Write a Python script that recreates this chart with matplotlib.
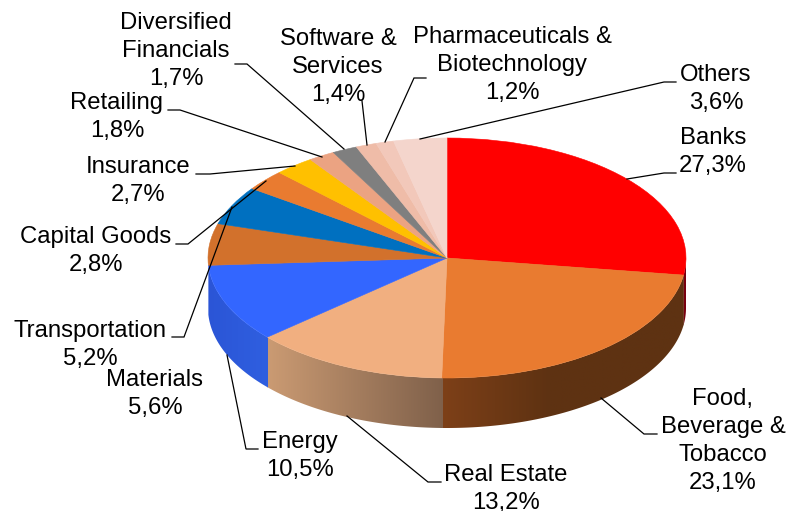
import numpy as np
import matplotlib
matplotlib.use("Agg")
import matplotlib.pyplot as plt
from matplotlib.colors import to_rgb
from matplotlib.patches import Polygon

plt.rcParams['font.family'] = ['Liberation Sans', 'DejaVu Sans']

# data
sectors = ["Banks", "Food,\nBeverage &\nTobacco", "Real Estate", "Energy", "Materials",
           "Transportation", "Capital Goods", "Insurance", "Retailing",
           "Diversified\nFinancials", "Software &\nServices",
           "Pharmaceuticals &\nBiotechnology", "Others"]
shares = [27.3, 23.1, 13.2, 10.5, 5.6, 5.2, 2.8, 2.7, 1.8, 1.7, 1.4, 1.2, 3.6]
share_labels = ["27,3%", "23,1%", "13,2%", "10,5%", "5,6%", "5,2%", "2,8%",
                "2,7%", "1,8%", "1,7%", "1,4%", "1,2%", "3,6%"]
colors = ["#FF0000", "#E97B30", "#F1AF80", "#3366FF", "#D2712C", "#0070C0", "#E97B30",
          "#FFC000", "#EBA382", "#7F7F7F", "#EFBCA8", "#F2C8BA", "#F4D5CC"]

# pixel layout of the pie in the 788x511 picture
cx, cy = 447, 258
rx, ry = 239, 120
depth = 50 / ry

# label centres in pixels, same order as sectors
label_pos = [(713, 152), (723, 441), (506, 489), (300, 456), (155, 394),
             (90, 345), (96, 251), (138, 181), (117, 117),
             (176, 51), (338, 67), (512, 65), (716, 89)]

# leader lines in pixels (None = no leader)
leaders = [[(676, 173), (664, 173), (627, 179)],
           [(657, 434), (644, 434), (601, 398)],
           [(441, 482), (428, 482), (347, 416)],
           [(258, 449), (246, 449), (227, 355)],
           None,
           [(172, 337), (184, 337), (232, 207)],
           [(176, 244), (188, 244), (266, 181)],
           [(196, 174), (210, 174), (295, 166)],
           [(168, 110), (180, 110), (322, 157)],
           [(235, 64), (247, 64), (344, 149)],
           [(362, 101), (367, 145)],
           [(426, 78), (414, 78), (385, 142)],
           [(676, 82), (664, 82), (420, 139)]]

# side wall colours, (left edge, right edge) of each front slice
wall_colors = {0: ("#7A0010", "#7A0010"),
               1: ("#7E4018", "#5E3212"),
               2: ("#CB9B73", "#7F604A"),
               3: ("#2B55D6", "#2F5FE0")}
# share of the width over which the colour changes
wall_ramp = {0: 1.0, 1: 0.45, 2: 1.0, 3: 1.0}


def to_data(px, py):
    return (px - cx) / rx, (cy - py) / ry


fig = plt.figure(figsize=(7.88, 5.11), dpi=100)
ax = fig.add_axes([0, 0, 1, 1])

wedges, _ = ax.pie(shares, colors=colors, startangle=90, counterclock=False, radius=1)
for w in wedges:
    w.set_edgecolor(w.get_facecolor())
    w.set_linewidth(0.4)
    w.set_zorder(3)

# side wall, only the front half (90..270 deg clockwise from top) shows
# a small overlap between slices hides the seam
fractions = np.cumsum([0] + shares) / sum(shares) * 360
for i in wall_colors:
    a0 = max(fractions[i], 90) - 0.3
    a1 = min(fractions[i + 1], 270) + 0.3
    angles = np.linspace(a0, a1, 200)
    xs = np.sin(np.radians(angles))
    ys = np.cos(np.radians(angles))
    outline = np.vstack([np.column_stack([xs, ys]),
                         np.column_stack([xs[::-1], ys[::-1] - depth])])
    clip = Polygon(outline, closed=True, transform=ax.transData, fc="none", ec="none")
    ax.add_patch(clip)
    left, right = np.array(to_rgb(wall_colors[i][0])), np.array(to_rgb(wall_colors[i][1]))
    ramp = np.clip(np.linspace(0, 1, 256) / wall_ramp[i], 0, 1)[:, None]
    strip = (left + (right - left) * ramp)[None, :, :]
    im = ax.imshow(strip, extent=[xs.min(), xs.max(), ys.min() - depth, ys.max()],
                   aspect="auto", origin="lower", zorder=2, interpolation="bilinear")
    im.set_clip_path(clip)

# squash the pie to an ellipse
ax.set_aspect("auto")
ax.set_xlim(-cx / rx, (788 - cx) / rx)
ax.set_ylim((cy - 511) / ry, cy / ry)
ax.axis("off")

# leader lines
for pts in leaders:
    if pts is None:
        continue
    d = [to_data(*p) for p in pts]
    ax.plot([p[0] for p in d], [p[1] for p in d], color="black", lw=0.9, zorder=4,
            solid_joinstyle="miter")

# labels
for name, lab, pos in zip(sectors, share_labels, label_pos):
    x, y = to_data(*pos)
    ax.text(x, y, name + "\n" + lab, ha="center", va="center", fontsize=17.2,
            linespacing=1.34, color="black", zorder=5)

fig.savefig("out.png", dpi=100)
